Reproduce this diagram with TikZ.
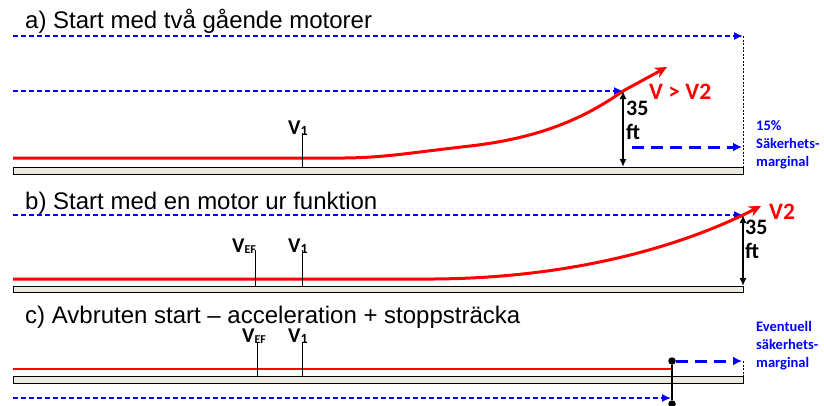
\documentclass[tikz,border=0pt]{standalone}
\usepackage{fontspec}
\setmainfont{Liberation Sans}
\newfontfamily\calib{Carlito}
\usetikzlibrary{arrows.meta}
\definecolor{rwfill}{HTML}{ECE9DF}
\tikzset{
  bluedash/.style={blue, line width=1.4pt, dash pattern=on 5pt off 3pt, -{Latex[length=9pt,width=8pt]}},
  thickdash/.style={blue, line width=3pt, dash pattern=on 12pt off 7pt, -{Latex[length=9pt,width=9pt]}},
  redpath/.style={red, line width=3pt},
  redarrow/.style={red, line width=3pt, -{Stealth[length=12pt,width=11pt]}},
  runway/.style={draw=black, fill=rwfill, line width=0.8pt},
  tickline/.style={black, line width=0.8pt},
  heightarrow/.style={black, line width=1.6pt, {Latex[length=8pt,width=7pt]}-{Latex[length=8pt,width=7pt]}},
  dotline/.style={black, line width=0.9pt, dash pattern=on 2pt off 1.5pt},
  title/.style={anchor=base west, inner sep=0pt, font=\fontsize{24}{26}\selectfont},
  vlabel/.style={anchor=base west, inner sep=0pt, font=\calib\bfseries\fontsize{21}{22}\selectfont},
  ftlabel/.style={anchor=base west, inner sep=0pt, font=\calib\bfseries\fontsize{22}{24}\selectfont},
  redlabel/.style={anchor=base west, inner sep=0pt, text=red, font=\calib\bfseries\fontsize{23.5}{25}\selectfont},
  bluelabel/.style={anchor=north west, inner sep=0pt, align=left, text=blue, font=\calib\bfseries\fontsize{14.5}{18}\selectfont},
  bigdot/.style={circle, fill=black, inner sep=0pt, minimum size=7.5pt},
}
\newcommand{\Vone}{V\raisebox{-1.5pt}{\fontsize{14}{14}\selectfont 1}}
\newcommand{\Vef}{V\raisebox{-1pt}{\fontsize{12}{12}\selectfont EF}}
\begin{document}
\begin{tikzpicture}[x=1pt, y=-1pt]
\useasboundingbox (0,0) rectangle (824,405);

% ---------- a) ----------
\node[title] (ta) at (25,28) {a) Start med två gående motorer};
\coordinate (a1s) at (13,36);  \coordinate (a1e) at (743,36);
\draw[bluedash] (a1s) -- (a1e);
\coordinate (a2s) at (13,91);  \coordinate (a2e) at (623,91);
\draw[bluedash] (a2s) -- (a2e);
\draw[runway] (13,167) rectangle (743,174);
\coordinate (adot1) at (743,36); \coordinate (adot2) at (743,167);
\draw[dotline] (adot1) -- (adot2);
\coordinate (ar0) at (13,158); \coordinate (ar1) at (330,158);
\coordinate (arm) at (470,146);
\coordinate (ar2) at (623,91); \coordinate (ar3) at (667,67);
\draw[redpath] (ar0) -- (ar1) .. controls (380,158.5) and (400,154) .. (arm)
  .. controls (540,138) and (585,118) .. (ar2);
\draw[redarrow] (ar2) -- (ar3);
\node[redlabel] (vv2) at (649,99) {V > V2};
\coordinate (ah1) at (623,91); \coordinate (ah2) at (623,167);
\draw[heightarrow] (ah1) -- (ah2);
\node[ftlabel] (a35) at (626,115) {35};
\node[ftlabel] (aft) at (626,139) {ft};
\coordinate (am1) at (632,147); \coordinate (am2) at (742,147);
\draw[thickdash] (am1) -- (am2);
\node[bluelabel] (amarg) at (756,120) {15\%\\Säkerhets-\\marginal};
\coordinate (av1b) at (302,167); \coordinate (av1t) at (302,133);
\draw[tickline] (av1b) -- (av1t);
\node[vlabel] (av1) at (288,134) {\Vone};

% ---------- b) ----------
\node[title] (tb) at (25,209) {b) Start med en motor ur funktion};
\coordinate (b1s) at (13,215); \coordinate (b1e) at (743,215);
\draw[bluedash] (b1s) -- (b1e);
\draw[runway] (13,286) rectangle (743,292);
\coordinate (br0) at (13,279); \coordinate (br1) at (420,279);
\coordinate (br2) at (743,215); \coordinate (br3) at (761,206);
\draw[redpath] (br0) -- (br1) .. controls (560,280) and (670,250) .. (br2);
\draw[redarrow] (br2) -- (br3);
\node[redlabel] (bv2) at (769,219) {V2};
\coordinate (bh1) at (743,215); \coordinate (bh2) at (743,286);
\draw[heightarrow] (bh1) -- (bh2);
\node[ftlabel] (b35) at (745,234) {35};
\node[ftlabel] (bft) at (745,258) {ft};
\coordinate (bvefb) at (255,286); \coordinate (bveft) at (255,250);
\draw[tickline] (bvefb) -- (bveft);
\node[vlabel] (bvef) at (232,252) {\Vef};
\coordinate (bv1b) at (302,286); \coordinate (bv1t) at (302,250);
\draw[tickline] (bv1b) -- (bv1t);
\node[vlabel] (bv1) at (288,252) {\Vone};

% ---------- c) ----------
\node[title] (tc) at (25,323) {c) Avbruten start – acceleration + stoppsträcka};
\draw[runway] (13,376) rectangle (743,383);
\coordinate (cr0) at (13,369); \coordinate (cr1) at (672,369);
\draw[red, line width=2.6pt] (cr0) -- (cr1);
\coordinate (cb1) at (13,398); \coordinate (cb2) at (671,398);
\draw[bluedash] (cb1) -- (cb2);
\node[bigdot] (ctop) at (672,361) {};
\node[bigdot] (cbot) at (672,404) {};
\draw[black, line width=1.6pt] (ctop) -- (cbot);
\coordinate (cm2) at (742,361);
\draw[thickdash] (ctop) -- (cm2);
\coordinate (cd1) at (743,361); \coordinate (cd2) at (743,376);
\draw[dotline] (cd1) -- (cd2);
\node[bluelabel] (cmarg) at (756,321) {Eventuell\\säkerhets-\\marginal};
\coordinate (cvefb) at (257,376); \coordinate (cveft) at (257,342);
\draw[tickline] (cvefb) -- (cveft);
\node[vlabel] (cvef) at (242,342) {\Vef};
\coordinate (cv1b) at (302,376); \coordinate (cv1t) at (302,342);
\draw[tickline] (cv1b) -- (cv1t);
\node[vlabel] (cv1) at (288,342) {\Vone};
\end{tikzpicture}
\end{document}
